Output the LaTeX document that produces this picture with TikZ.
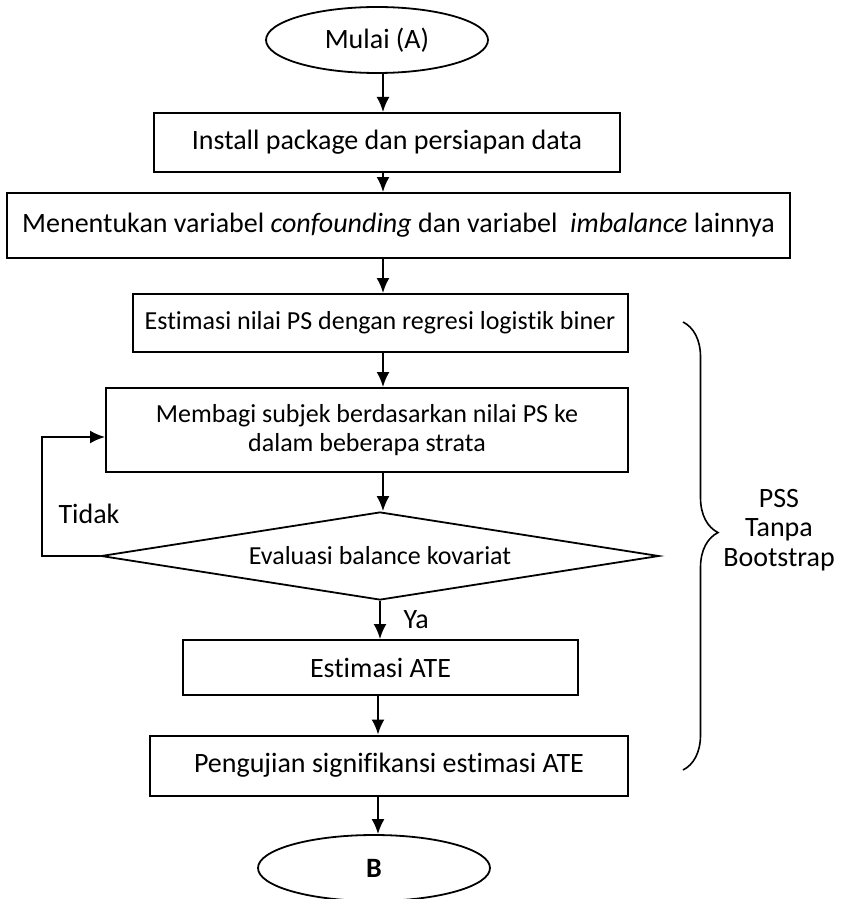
\documentclass[tikz,border=0pt]{standalone}
\usepackage{fontspec}
\setmainfont{Carlito}[Ligatures={NoCommon}]
\usetikzlibrary{arrows.meta, positioning, shapes.geometric, decorations.pathreplacing}

\begin{document}
\begin{tikzpicture}[
    x=0.5pt, y=-0.5pt,
    font=\fontsize{14}{14.8}\selectfont,
    pbox/.style n args={2}{
        rectangle, draw, line width=1pt,
        minimum width=#1*0.5pt, minimum height=#2*0.5pt,
        inner sep=0pt, align=center
    },
    term/.style n args={2}{
        ellipse, draw, line width=0.9pt,
        minimum width=#1*0.5pt, minimum height=#2*0.5pt,
        inner sep=0pt
    },
    decide/.style n args={2}{
        diamond, draw, line width=0.9pt, aspect=6,
        minimum width=#1*0.5pt, minimum height=#2*0.5pt,
        inner sep=0pt
    },
    smaller/.style={font=\fontsize{13}{14.8}\selectfont},
    harrow/.style={
        -{Latex[length=7.5pt,width=6.5pt]}, line width=1pt
    },
]

\useasboundingbox (0,0) rectangle (842,899);

% arrow axes
\coordinate (axA) at (383,0);
\coordinate (axB) at (380,0);
\coordinate (axC) at (378,0);

% ============================================================
% Main flow
% ============================================================

\node[term={222}{66}] (mulai) at (377,40) {Mulai (A)};

\node[pbox={466}{59}] (install) at (387,142.5) {Install package dan persiapan data};

\node[pbox={783}{65}] (tentukan) at (398.5,225.5)
    {Menentukan variabel \textit{confounding} dan variabel~ \textit{imbalance} lainnya};

\node[pbox={495}{58}, smaller] (estps) at (380,323) {Estimasi nilai PS dengan regresi logistik biner};

\node[pbox={522}{84}, smaller] (strata) at (367,430)
    {Membagi subjek berdasarkan nilai PS ke\\dalam beberapa strata};

\node[decide={558}{88}, smaller] (balance) at (380,556) {Evaluasi balance kovariat};

\node[pbox={395}{55}] (ate) at (380.5,667.5) {Estimasi ATE};

\node[pbox={478}{60}] (uji) at (389,765.5) {Pengujian signifikansi estimasi ATE};

\node[term={232}{66}] (selesai) at (374,868) {\bfseries B};

\draw[harrow] (mulai.south -| axA) -- (install.north -| axA);
\draw[harrow] (install.south -| axA) -- (tentukan.north -| axA);
\draw[harrow] (tentukan.south -| axA) -- (estps.north -| axA);
\draw[harrow] (estps.south -| axA) -- (strata.north -| axA);
\draw[harrow] (strata.south -| axA) -- (balance.north -| axA);
\draw[harrow] (balance.south -| axB) --
    node[midway, right=8pt] (ya) {Ya} (ate.north -| axB);
\draw[harrow] (ate.south -| axC) -- (uji.north -| axC);
\draw[harrow] (uji.south -| axC) -- (selesai.north -| axC);

% loop back (Tidak)
\draw[harrow] (balance.west) -- ++(-58,0) |- ([yshift=-3.5pt]strata.west);
\node (tidak) at (89,514) {Tidak};

% ============================================================
% Brace
% ============================================================

\coordinate (brtop) at (683,322);
\coordinate (brbot) at (683,770);
\draw[decorate, decoration={brace, amplitude=17.5pt, aspect=0.47}, line width=0.8pt]
    (brtop) -- (brbot);
\node[align=center] (pss) at (779,530) {PSS\\Tanpa\\Bootstrap};

\end{tikzpicture}
\end{document}
